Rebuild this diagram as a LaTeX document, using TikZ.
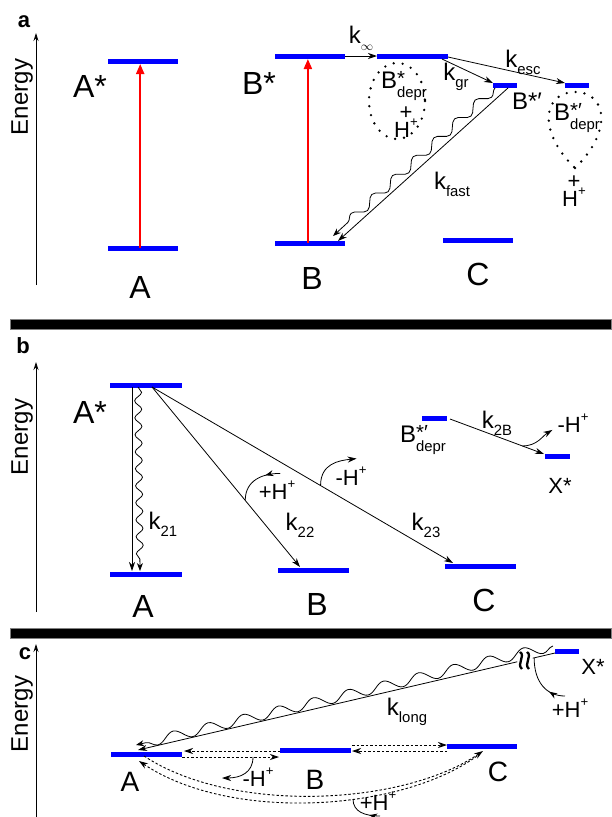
\documentclass[tikz,border=0pt]{standalone}
\usepackage{fontspec}
\setmainfont{Liberation Sans}
\usetikzlibrary{calc,arrows.meta,decorations.pathmorphing,decorations.markings}

\newcommand{\dn}[1]{\raisebox{-0.3em}{\scalebox{0.62}{#1}}}
\newcommand{\up}[1]{\raisebox{0.5em}{\scalebox{0.6}{#1}}}
\newcommand{\updn}[2]{\makebox[0pt][l]{\raisebox{0.15em}{\scalebox{0.85}{#1}}}\raisebox{-0.38em}{\scalebox{0.62}{#2}}}
\newcommand{\Hp}{H\up{+}}
% a level: name, x left, x right, y
\newcommand{\enlevel}[4]{%
    \coordinate (#1-l) at (#2,#4);
    \coordinate (#1-r) at (#3,#4);
    \draw[level] (#1-l) -- (#1-r);}

\tikzset{
    level/.style={draw=blue, line width=5pt},
    excite/.style={draw=red, line width=2pt, -{Triangle[length=10pt,width=8pt]}},
    rate/.style={line width=0.8pt, -{Stealth[length=9pt,width=6pt]}},
    relax/.style={line width=0.8pt, -{Stealth[length=8pt,width=6pt]}, decorate,
        decoration={snake, amplitude=3.5pt, segment length=17pt, post length=8pt}},
    hop/.style={line width=0.9pt, dash pattern=on 2.5pt off 2pt, -{Stealth[length=9pt,width=6pt]}},
    proton/.style={line width=0.8pt, postaction={decorate}, decoration={markings,
        mark=at position 0.7 with {\arrowreversed{Stealth[length=8pt,width=6pt]}}}},
    axis/.style={line width=0.8pt, -{Stealth[length=8pt,width=5pt]}},
    dotline/.style={line width=2.6pt, dash pattern=on 0pt off 9pt, line cap=round},
    big/.style={font=\fontsize{32}{34}\selectfont, inner sep=0pt},
    mid/.style={font=\fontsize{28}{30}\selectfont, inner sep=0pt},
    rlab/.style={font=\fontsize{24}{26}\selectfont, inner sep=0pt},
    hlab/.style={font=\fontsize{22}{24}\selectfont, inner sep=0pt},
    tag/.style={font=\fontsize{22}{24}\selectfont\bfseries, inner sep=0pt},
}

\begin{document}
\begin{tikzpicture}[x=1pt, y=-1pt]
    \useasboundingbox (0,0) rectangle (611,817);

    % ==========================================
    % Panel a
    % ==========================================
    \node[tag] (taga) at (24,22) {a};
    \coordinate (axa0) at (36,285);
    \coordinate (axa1) at (36,33);
    \draw[axis] (axa0) -- (axa1);
    \node[rlab, rotate=90] (ena) at (22,97) {Energy};

    \enlevel{aAs}{108}{178}{61}
    \enlevel{aA}{108}{178}{248}
    \enlevel{aBs}{275}{345}{56}
    \enlevel{aB}{275}{345}{243}
    \enlevel{aBd}{377}{448}{56}
    \enlevel{aBp}{493}{517}{85}
    \enlevel{aBpd}{565}{589}{85}
    \enlevel{aC}{443}{513}{240}

    \node[big] (aAstxt) at (90,86) {A*};
    \node[big] (aAtxt) at (140,287) {A};
    \node[big] (aBstxt) at (259,83) {B*};
    \node[big] (aBtxt) at (312,278) {B};
    \node[big] (aCtxt) at (478,274) {C};

    % excitation
    \draw[excite] ($(aA-l)!0.46!(aA-r)$) -- ($(aAs-l)!0.46!(aAs-r)+(0,3)$);
    \draw[excite] ($(aB-l)!0.47!(aB-r)$) -- ($(aBs-l)!0.47!(aBs-r)+(0,3)$);

    % rates out of B*
    \draw[rate] (aBs-r) -- (aBd-l) node[rlab, midway, above, yshift=5pt] (kinf) {k\dn{\scalebox{0.8}{$\infty$}}};
    \draw[rate] ($(aBd-r)+(-6,3)$) -- ($(aBp-l)+(0,-2)$);
    \node[rlab] (kgr) at (456,77) {k\dn{gr}};
    \draw[rate] ($(aBd-r)+(0,1)$) -- ($(aBpd-l)+(0,-2)$);
    \node[rlab] (kesc) at (523,62) {k\dn{esc}};
    \node[rlab] (aBptxt) at (527,101) {B*′};

    % fast return to B
    \draw[rate] ($(aBp-r)+(-9,3)$) -- ($(aB-r)+(-7,-2)$);
    \draw[relax, decoration={snake, amplitude=4.5pt, segment length=28pt, post length=8pt}]
        ($(aBp-l)+(2,3)$) -- ($(aB-l)+(58,-7)$);
    \node[rlab] (kfast) at (452,184) {k\dn{fast}};

    % deprotonated pairs
    \draw[dotline] (397,101) ellipse [x radius=28, y radius=38];
    \node[rlab] (aBdtxt) at (404,86) {B\updn{*}{depr}};
    \node[hlab, align=center] (aH1) at (406,122) {+\\[-6pt]\Hp};
    \draw[dotline] (575,168) .. controls (614,130) and (606,92) .. (575,92)
        .. controls (544,92) and (536,130) .. (575,168);
    \node[rlab] (aBpdtxt) at (577,118) {B\updn{*′}{depr}};
    \node[hlab, align=center] (aH2) at (574,191) {+\\[-6pt]\Hp};

    \fill[black, draw=gray] (10,319) rectangle (611,329);

    % ==========================================
    % Panel b
    % ==========================================
    \node[tag] (tagb) at (23,346) {b};
    \coordinate (axb0) at (36,612);
    \coordinate (axb1) at (36,362);
    \draw[axis] (axb0) -- (axb1);
    \node[rlab, rotate=90] (enb) at (22,437) {Energy};

    \enlevel{bAs}{110}{182}{385}
    \enlevel{bA}{110}{182}{574}
    \enlevel{bB}{278}{349}{570}
    \enlevel{bC}{445}{516}{566}
    \enlevel{bBpd}{422}{447}{418}
    \enlevel{bX}{545}{570}{456}

    \node[big] (bAstxt) at (90,412) {A*};
    \node[big] (bAtxt) at (143,606) {A};
    \node[big] (bBtxt) at (317,604) {B};
    \node[big] (bCtxt) at (484,600) {C};
    \node[rlab] (bBpdtxt) at (423,440) {B\updn{*′}{depr}};
    \node[hlab] (bXtxt) at (560,486) {X*};

    % decay of A*
    \draw[rate] ($(bAs-l)+(22,2)$) -- ($(bA-l)+(22,-3)$);
    \draw[relax] ($(bAs-l)+(28,2)$) -- ($(bA-l)+(30,-3)$);
    \node[rlab] (k21) at (163,524) {k\dn{21}};

    \coordinate (bs1) at ($(bAs-l)+(42,2)$);
    \coordinate (bBe) at ($(bB-l)+(22,-3)$);
    \coordinate (bCe) at ($(bC-l)+(8,-3)$);
    \draw[rate] (bs1) -- (bBe);
    \draw[rate] (bs1) -- (bCe);
    \node[rlab] (k22) at (300,525) {k\dn{22}};
    \node[rlab] (k23) at (426,525) {k\dn{23}};

    % proton transfer on the way
    \coordinate (hb1) at ($(bs1)!0.63!(bBe)$);
    \coordinate (hb1e) at ($(hb1)+(35,-27)$);
    \draw[proton] (hb1) .. controls ($(hb1)+(0,-20)$) and ($(hb1e)+(-18,0)$) .. (hb1e);
    \node[hlab] (hb1txt) at (277,490) {+\Hp};
    \coordinate (hc1) at ($(bs1)!0.56!(bCe)$);
    \coordinate (hc1e) at ($(hc1)+(36,-27)$);
    \draw[rate] (hc1) .. controls ($(hc1)+(0,-22)$) and ($(hc1e)+(-18,2)$) .. (hc1e);
    \node[hlab] (hc1txt) at (351,476) {-\Hp};

    \coordinate (k2s) at ($(bBpd-r)+(3,1)$);
    \coordinate (k2e) at ($(bX-l)+(-1,-2)$);
    \draw[rate] (k2s) -- (k2e);
    \node[rlab] (k2B) at (497,423) {k\dn{2B}};
    \coordinate (hx1) at ($(k2s)!0.77!(k2e)$);
    \coordinate (hx1e) at ($(hx1)+(30,-16)$);
    \draw[rate] (hx1) .. controls ($(hx1)+(15,0)$) and ($(hx1e)+(-10,6)$) .. (hx1e);
    \node[hlab] (hx1txt) at (573,423) {-\Hp};

    \fill[black, draw=gray] (10,628) rectangle (611,638);

    % ==========================================
    % Panel c
    % ==========================================
    \node[tag] (tagc) at (25,654) {c};
    \coordinate (axc0) at (36,817);
    \coordinate (axc1) at (36,644);
    \draw[axis] (axc0) -- (axc1);
    \node[rlab, rotate=90] (enc) at (22,714) {Energy};

    \enlevel{cA}{111}{182}{754}
    \enlevel{cB}{280}{351}{750}
    \enlevel{cC}{447}{517}{746}
    \enlevel{cX}{555}{579}{651}

    \node[mid] (cAtxt) at (130,782) {A};
    \node[mid] (cBtxt) at (315,780) {B};
    \node[mid] (cCtxt) at (498,772) {C};
    \node[hlab] (cXtxt) at (593,667) {X*};

    % long way back from X*
    \coordinate (kls) at ($(cX-l)+(0,2)$);
    \coordinate (kle) at ($(cA-l)+(27,-4)$);
    \draw[rate] (kls) -- (kle);
    \draw[relax, decoration={snake, amplitude=5pt, segment length=36pt, post length=8pt}]
        ($(cX-l)+(-2,-5)$) -- ($(cA-l)+(25,-9)$);
    \node[rlab] (klong) at (407,712) {k\dn{long}};
    \fill[white] (525,660) ellipse [x radius=8, y radius=9];
    \draw[line width=2.3pt] (520,652) .. controls (526,656) and (516,664) .. (522,669);
    \draw[line width=2.3pt] (527,652) .. controls (533,656) and (523,664) .. (529,669);
    \coordinate (hX) at ($(kls)!0.05!(kle)$);
    \coordinate (hXe) at (565,696);
    \draw[proton] (hX) .. controls ($(hX)+(0,25)$) and ($(hXe)+(-18,0)$) .. (hXe);
    \node[hlab] (hXtxt) at (570,708) {+\Hp};

    % hopping between A, B and C
    \draw[hop] ($(cB-l)+(0,1)$) -- ($(cA-r)+(2,-3)$);
    \draw[hop] ($(cA-r)+(0,3)$) -- ($(cB-l)+(-1,7)$);
    \coordinate (hab) at ($(cA-r)+(71,3)$);
    \coordinate (habe) at ($(hab)+(-31,21)$);
    \draw[rate] (hab) .. controls ($(hab)+(0,16)$) and ($(habe)+(18,0)$) .. (habe);
    \node[hlab] (habtxt) at (258,777) {-\Hp};

    \draw[hop] ($(cB-r)+(1,-5)$) -- ($(cC-l)+(0,-1)$);
    \draw[hop] ($(cC-l)+(0,5)$) -- ($(cB-r)+(1,1)$);

    \coordinate (acA1) at ($(cA-l)+(28,7)$);
    \coordinate (acC1) at ($(cC-l)+(30,10)$);
    \coordinate (acA2) at ($(cA-l)+(33,2)$);
    \coordinate (acC2) at ($(cC-l)+(36,5)$);
    \draw[hop] (acC1) .. controls (400,812) and (230,822) .. (acA1);
    \draw[hop] (acA2) .. controls (232,814) and (402,806) .. (acC2);
    \coordinate (hac) at (353,799);
    \coordinate (hace) at (380,816);
    \draw[proton] (hac) .. controls (353,812) and (365,816) .. (hace);
    \node[hlab] (hactxt) at (378,801) {+\Hp};

\end{tikzpicture}
\end{document}
